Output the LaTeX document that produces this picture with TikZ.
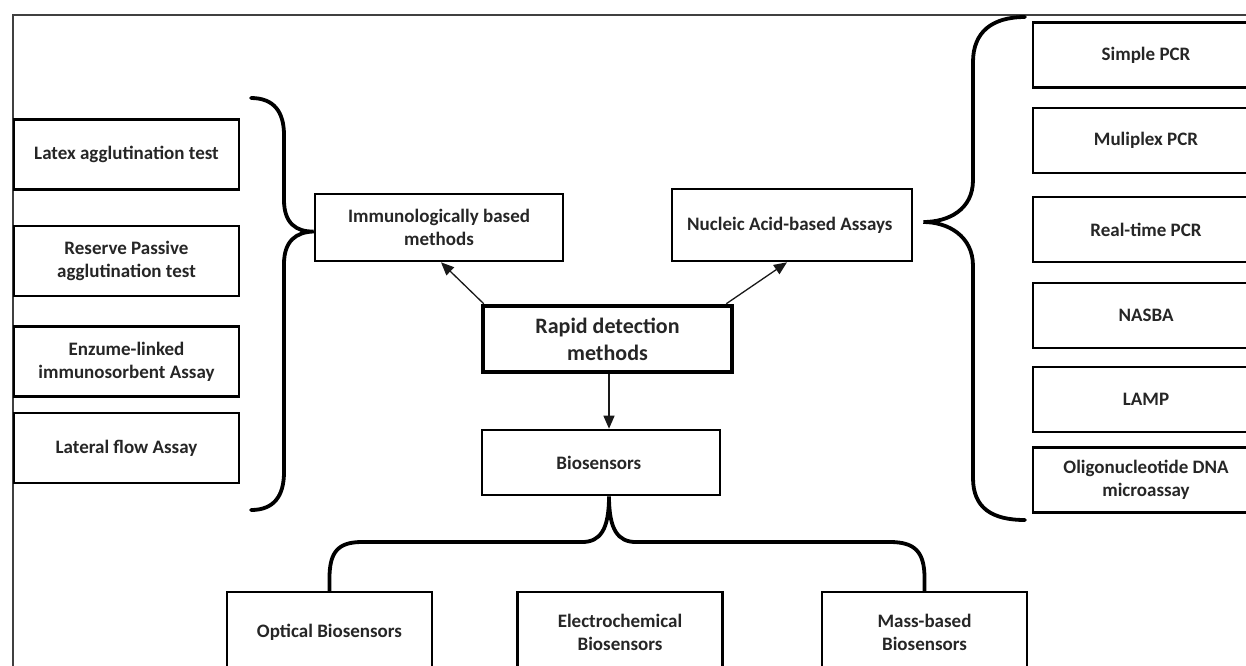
\documentclass[tikz,border=0pt]{standalone}
\usepackage{fontspec}
\setmainfont{Carlito}
\usetikzlibrary{arrows.meta, positioning}

\begin{document}
\begin{tikzpicture}[
    x=1pt, y=-1pt,
    methodbox/.style={
        draw=black,
        line width=2.6pt,
        fill=white,
        inner sep=2pt,
        align=center,
        text=black!85,
        font=\bfseries\fontsize{19}{23}\selectfont
    },
    assaybox/.style={
        methodbox,
        minimum width=225pt,
        minimum height=70pt
    },
    pcrbox/.style={
        methodbox,
        minimum width=226pt,
        minimum height=65pt
    },
    sensorbox/.style={
        methodbox,
        minimum width=205pt,
        minimum height=80pt
    },
    rootbox/.style={
        methodbox,
        line width=4.5pt,
        minimum width=249pt,
        minimum height=66pt,
        font=\bfseries\fontsize{22}{27}\selectfont
    },
    brace/.style={
        draw=black,
        line width=3.8pt,
        line cap=round
    },
    arrow/.style={
        draw=black!90,
        line width=1.3pt,
        -{Triangle[length=13pt,width=11pt]}
    }
]
    \clip (0,0) rectangle (1246,665);
    \fill[white] (0,0) rectangle (1246,665);
    \draw[draw=black!75, line width=2pt] (13,15) rectangle (1300,700);

    % centre
    \node[rootbox] (rapid) at (607.5,339) {Rapid detection\\methods};
    \node[methodbox, minimum width=248pt, minimum height=67pt] (immuno) at (439,227.5) {
        Immunologically based\\methods
    };
    \node[methodbox, minimum width=240pt, minimum height=72pt] (nucleic) at (792,225) {
        Nucleic Acid-based Assays
    };
    \node[methodbox, minimum width=238pt, minimum height=65pt] (bio) at (601,462.5) {
        Biosensors
    };

    % immunological methods
    \node[assaybox] (latex) at (126.5,154.5) {Latex agglutination test};
    \node[assaybox] (reserve) at (126.5,261) {Reserve Passive\\agglutination test};
    \node[assaybox] (elisa) at (126.5,361.5) {Enzume-linked\\immunosorbent Assay};
    \node[assaybox] (lateral) at (126.5,448) {Lateral flow Assay};

    % nucleic acid assays
    \node[pcrbox] (simple) at (1146,55) {Simple PCR};
    \node[pcrbox] (multiplex) at (1146,140.5) {Muliplex PCR};
    \node[pcrbox] (realtime) at (1146,229.5) {Real-time PCR};
    \node[pcrbox] (nasba) at (1146,315.5) {NASBA};
    \node[pcrbox] (lamp) at (1146,399.5) {LAMP};
    \node[pcrbox] (oligo) at (1146,480) {Oligonucleotide DNA\\microassay};

    % biosensors
    \node[sensorbox] (optical) at (329.5,632) {Optical Biosensors};
    \node[sensorbox] (electro) at (620,632) {Electrochemical\\Biosensors};
    \node[sensorbox] (mass) at (924.5,632) {Mass-based\\Biosensors};

    % arrows
    \draw[arrow] ([xshift=3pt]rapid.north west) -- ([xshift=2pt]immuno.south);
    \draw[arrow] ([xshift=-8pt]rapid.north east) -- ([xshift=-5pt]nucleic.south);
    \draw[arrow] ([xshift=1.5pt]rapid.south) -- ([xshift=8pt]bio.north);

    % braces
    \draw[brace] (251,98) .. controls (274,98) and (284,112) .. (284,135)
        -- (284,200) .. controls (284,223) and (296,232) .. ([yshift=-4pt]immuno.west)
        .. controls (296,232) and (284,241) .. (284,264)
        -- (284,472) .. controls (284,496) and (274,510) .. (251,510);
    \draw[brace] (1025,17) .. controls (992,17) and (973,32) .. (973,62)
        -- (973,180) .. controls (973,210) and (948,222) .. ([xshift=10pt,yshift=3pt]nucleic.east)
        .. controls (948,222) and (973,236) .. (973,266)
        -- (973,478) .. controls (973,508) and (992,520) .. (1025,520);
    \draw[brace] (optical.north) -- (329.5,578) .. controls (329.5,552) and (338,542) .. (362,542)
        -- (582,542) .. controls (600,542) and (609,530) .. ([xshift=8pt]bio.south)
        .. controls (609,530) and (618,542) .. (636,542)
        -- (890,542) .. controls (915,542) and (924.5,552) .. (924.5,578) -- (mass.north);
\end{tikzpicture}
\end{document}
